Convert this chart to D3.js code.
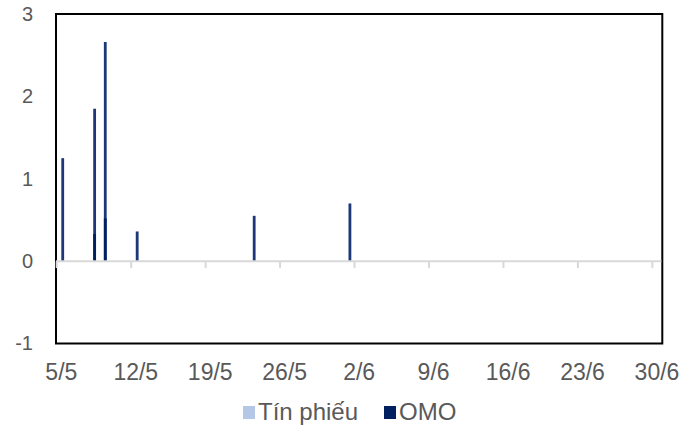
<!DOCTYPE html>
<html>
<head>
<meta charset="utf-8">
<script src="https://cdn.jsdelivr.net/npm/d3@7"></script>
<style>
  body { margin: 0; background: #fff; }
  text { font-family: "Liberation Sans", Arial, sans-serif; fill: #595959; }
</style>
</head>
<body>
<script>
const w = 697
const h = 430

// bars (day labels d/m)
const barDays = ['5/5', '8/5', '9/5', '12/5', '23/5', '1/6']
const omo = [1.25, 1.85, 2.66, 0.36, 0.55, 0.70]
const omoLower = [0, 0.33, 0.52, 0, 0, 0]
const tinPhieu = [0, 0, 0, 0, 0, 0]
const yTicks = [-1, 0, 1, 2, 3]
const xTickLabels = ['5/5', '12/5', '19/5', '26/5', '2/6', '9/6', '16/6', '23/6', '30/6']
const legendItems = ['Tín phiếu', 'OMO']
const colors = { 'Tín phiếu': '#b4c7e7', OMO: '#002060' }

const fmt = d3.timeFormat('%-d/%-m')
const days = d3.timeDay.range(new Date(2023, 4, 5), new Date(2023, 6, 1)).map(fmt)

const margin = { left: 56, right: 35, top: 14, bottom: 86.5 }

const svg = d3.select('body').append('svg')
  .attr('width', w)
  .attr('height', h)

const x = d3.scaleBand()
  .domain(days)
  .range([margin.left, w - margin.right + 0.3])

const bw = x.bandwidth()
const x1 = d3.scaleBand()
  .domain(legendItems)
  .range([bw / 2 - 2.8, bw / 2 + 2.8])

const y = d3.scaleLinear()
  .domain([-1, 3])
  .range([h - margin.bottom, margin.top])

// frame
svg.append('rect')
  .attr('x', margin.left)
  .attr('y', margin.top)
  .attr('width', x.range()[1] - margin.left)
  .attr('height', y(-1) - margin.top)
  .attr('fill', 'none')
  .attr('stroke', '#000')
  .attr('stroke-width', 2)

// bars
const rows = barDays.map((d, i) => ({ day: d, omo: omo[i], lower: omoLower[i], tp: tinPhieu[i] }))

svg.selectAll('.tp')
  .data(rows.filter(d => d.tp > 0))
  .enter().append('rect')
  .attr('x', d => x(d.day) + x1('Tín phiếu'))
  .attr('width', x1.bandwidth())
  .attr('y', d => y(d.tp))
  .attr('height', d => y(0) - y(d.tp))
  .attr('fill', colors['Tín phiếu'])

svg.selectAll('.omo')
  .data(rows)
  .enter().append('rect')
  .attr('x', d => x(d.day) + x1('OMO'))
  .attr('width', x1.bandwidth())
  .attr('y', d => y(d.omo))
  .attr('height', d => y(0) - y(d.omo))
  .attr('fill', '#1c3878')

svg.selectAll('.omoLower')
  .data(rows.filter(d => d.lower > 0))
  .enter().append('rect')
  .attr('x', d => x(d.day) + x1('OMO'))
  .attr('width', x1.bandwidth())
  .attr('y', d => y(d.lower))
  .attr('height', d => y(0) - y(d.lower))
  .attr('fill', colors.OMO)

// zero line with weekly ticks
svg.append('line')
  .attr('x1', margin.left)
  .attr('x2', x.range()[1] - 1)
  .attr('y1', y(0))
  .attr('y2', y(0))
  .attr('stroke', '#d9d9d9')
  .attr('stroke-width', 2)

svg.selectAll('.tick-mark')
  .data(xTickLabels)
  .enter().append('line')
  .attr('x1', d => x(d) + 0.7)
  .attr('x2', d => x(d) + 0.7)
  .attr('y1', y(0))
  .attr('y2', y(0) + 7)
  .attr('stroke', '#d9d9d9')
  .attr('stroke-width', 2)

// x labels
const xAxis = svg.append('g')
  .attr('transform', `translate(0,${y(-1)})`)
  .call(d3.axisBottom(x).tickValues(xTickLabels).tickSize(0).tickPadding(20))
xAxis.select('.domain').remove()
xAxis.selectAll('text')
  .style('font-size', '23px')
  .style('font-family', '"Liberation Sans", Arial, sans-serif')
  .attr('fill', '#595959')

// y labels
const yAxis = svg.append('g')
  .attr('transform', `translate(${margin.left},0)`)
  .call(d3.axisLeft(y).tickValues(yTicks).tickFormat(d => String(d)).tickSize(0).tickPadding(23))
yAxis.select('.domain').remove()
yAxis.selectAll('text')
  .style('font-size', '20px')
  .style('font-family', '"Liberation Sans", Arial, sans-serif')
  .attr('fill', '#595959')

// legend
const legendX = [243, 384]
const lg = svg.selectAll('.legend')
  .data(legendItems)
  .enter().append('g')
  .attr('transform', (d, i) => `translate(${legendX[i]},412)`)

lg.append('rect')
  .attr('x', 0)
  .attr('y', -6)
  .attr('width', 12)
  .attr('height', 13)
  .attr('fill', d => colors[d])

lg.append('text')
  .attr('x', 15)
  .attr('dy', '0.35em')
  .style('font-size', '24px')
  .text(d => d)
</script>
</body>
</html>
